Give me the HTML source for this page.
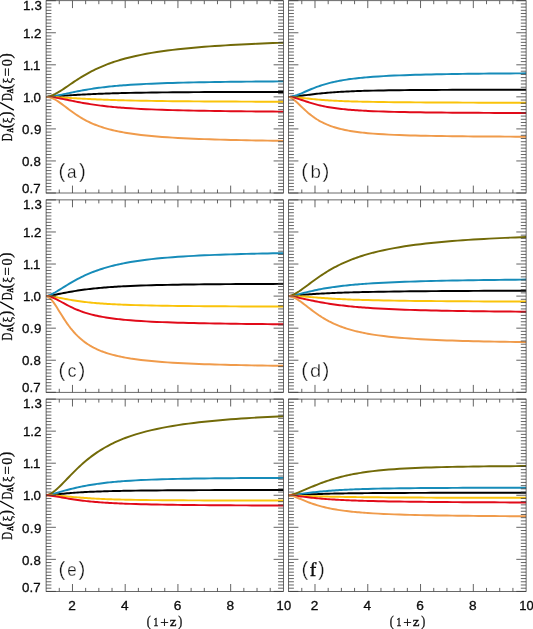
<!DOCTYPE html>
<html><head><meta charset="utf-8"><title>fig</title>
<style>html,body{margin:0;padding:0;background:#fff}svg{display:block}text{font-family:"Liberation Sans",sans-serif;fill:#111}.s{font-family:"Liberation Serif",serif}</style></head><body>
<svg width="533" height="629" viewBox="0 0 533 629">
<rect width="533" height="629" fill="#fff"/>
<g fill="none" stroke-width="1.95" stroke-linejoin="round" stroke-linecap="butt"><polyline points="46.1,96.9 47.86,96.81 49.62,96.7 51.37,96.58 53.13,96.46 54.89,96.34 56.65,96.21 58.4,96.09 60.16,95.96 61.92,95.84 63.68,95.72 65.44,95.6 67.19,95.48 68.95,95.36 70.71,95.25 72.47,95.14 74.22,95.03 75.98,94.93 77.74,94.83 79.5,94.73 81.26,94.63 83.01,94.54 84.77,94.45 86.53,94.36 88.29,94.27 90.04,94.19 91.8,94.11 93.56,94.03 95.32,93.96 97.08,93.88 98.83,93.81 100.59,93.75 102.35,93.68 104.11,93.62 105.86,93.55 107.62,93.5 109.38,93.44 111.14,93.38 112.9,93.33 114.65,93.28 116.41,93.23 118.17,93.18 119.93,93.13 121.68,93.09 123.44,93.05 125.2,93 130.47,92.89 135.75,92.78 141.02,92.69 146.29,92.6 151.57,92.53 156.84,92.46 162.11,92.4 167.39,92.35 172.66,92.3 177.93,92.25 183.21,92.21 188.48,92.18 193.75,92.15 199.03,92.12 204.3,92.09 209.57,92.07 214.85,92.05 220.12,92.03 225.39,92.01 230.67,92 235.94,91.98 241.21,91.97 246.49,91.96 251.76,91.95 257.03,91.94 262.31,91.93 267.58,91.92 272.85,91.92 278.13,91.91 283.4,91.9" stroke="#000000"/>
<polyline points="46.1,96.9 47.86,96.83 49.62,96.67 51.37,96.47 53.13,96.22 54.89,95.94 56.65,95.63 58.4,95.3 60.16,94.95 61.92,94.59 63.68,94.23 65.44,93.86 67.19,93.48 68.95,93.11 70.71,92.74 72.47,92.37 74.22,92.01 75.98,91.65 77.74,91.31 79.5,90.97 81.26,90.63 83.01,90.31 84.77,90 86.53,89.7 88.29,89.4 90.04,89.12 91.8,88.84 93.56,88.58 95.32,88.32 97.08,88.07 98.83,87.84 100.59,87.61 102.35,87.39 104.11,87.18 105.86,86.97 107.62,86.77 109.38,86.59 111.14,86.4 112.9,86.23 114.65,86.06 116.41,85.9 118.17,85.74 119.93,85.59 121.68,85.45 123.44,85.31 125.2,85.17 130.47,84.8 135.75,84.47 141.02,84.17 146.29,83.9 151.57,83.66 156.84,83.44 162.11,83.25 167.39,83.07 172.66,82.91 177.93,82.76 183.21,82.62 188.48,82.5 193.75,82.39 199.03,82.29 204.3,82.19 209.57,82.1 214.85,82.02 220.12,81.95 225.39,81.88 230.67,81.81 235.94,81.75 241.21,81.7 246.49,81.64 251.76,81.6 257.03,81.55 262.31,81.51 267.58,81.47 272.85,81.43 278.13,81.39 283.4,81.36" stroke="#168CB9"/>
<polyline points="46.1,96.9 47.86,96.72 49.62,96.3 51.37,95.71 53.13,94.99 54.89,94.14 56.65,93.2 58.4,92.19 60.16,91.11 61.92,89.98 63.68,88.82 65.44,87.64 67.19,86.44 68.95,85.24 70.71,84.04 72.47,82.85 74.22,81.67 75.98,80.51 77.74,79.37 79.5,78.25 81.26,77.16 83.01,76.09 84.77,75.06 86.53,74.05 88.29,73.07 90.04,72.12 91.8,71.21 93.56,70.32 95.32,69.45 97.08,68.62 98.83,67.82 100.59,67.04 102.35,66.29 104.11,65.56 105.86,64.86 107.62,64.18 109.38,63.53 111.14,62.89 112.9,62.28 114.65,61.69 116.41,61.12 118.17,60.57 119.93,60.04 121.68,59.53 123.44,59.03 125.2,58.55 130.47,57.19 135.75,55.97 141.02,54.85 146.29,53.83 151.57,52.9 156.84,52.05 162.11,51.27 167.39,50.55 172.66,49.89 177.93,49.28 183.21,48.71 188.48,48.18 193.75,47.69 199.03,47.23 204.3,46.8 209.57,46.4 214.85,46.03 220.12,45.68 225.39,45.35 230.67,45.04 235.94,44.74 241.21,44.47 246.49,44.21 251.76,43.96 257.03,43.72 262.31,43.5 267.58,43.29 272.85,43.09 278.13,42.9 283.4,42.72" stroke="#726A08"/>
<polyline points="46.1,96.9 47.86,96.92 49.62,96.96 51.37,97.01 53.13,97.07 54.89,97.14 56.65,97.22 58.4,97.31 60.16,97.4 61.92,97.5 63.68,97.6 65.44,97.7 67.19,97.8 68.95,97.9 70.71,98.01 72.47,98.11 74.22,98.22 75.98,98.32 77.74,98.42 79.5,98.52 81.26,98.62 83.01,98.71 84.77,98.81 86.53,98.9 88.29,98.99 90.04,99.08 91.8,99.16 93.56,99.25 95.32,99.33 97.08,99.41 98.83,99.48 100.59,99.56 102.35,99.63 104.11,99.7 105.86,99.76 107.62,99.83 109.38,99.89 111.14,99.95 112.9,100.01 114.65,100.07 116.41,100.12 118.17,100.17 119.93,100.22 121.68,100.27 123.44,100.32 125.2,100.37 130.47,100.5 135.75,100.61 141.02,100.72 146.29,100.81 151.57,100.9 156.84,100.98 162.11,101.05 167.39,101.11 172.66,101.17 177.93,101.22 183.21,101.27 188.48,101.32 193.75,101.36 199.03,101.4 204.3,101.43 209.57,101.46 214.85,101.49 220.12,101.52 225.39,101.55 230.67,101.57 235.94,101.59 241.21,101.61 246.49,101.63 251.76,101.65 257.03,101.67 262.31,101.68 267.58,101.7 272.85,101.71 278.13,101.73 283.4,101.74" stroke="#FAC30A"/>
<polyline points="46.1,96.9 47.86,96.94 49.62,97.04 51.37,97.18 53.13,97.37 54.89,97.6 56.65,97.86 58.4,98.14 60.16,98.45 61.92,98.78 63.68,99.12 65.44,99.46 67.19,99.82 68.95,100.18 70.71,100.54 72.47,100.9 74.22,101.25 75.98,101.6 77.74,101.95 79.5,102.28 81.26,102.61 83.01,102.93 84.77,103.24 86.53,103.54 88.29,103.83 90.04,104.12 91.8,104.39 93.56,104.65 95.32,104.9 97.08,105.14 98.83,105.38 100.59,105.6 102.35,105.82 104.11,106.02 105.86,106.22 107.62,106.41 109.38,106.6 111.14,106.77 112.9,106.94 114.65,107.11 116.41,107.26 118.17,107.41 119.93,107.56 121.68,107.7 123.44,107.83 125.2,107.96 130.47,108.31 135.75,108.63 141.02,108.92 146.29,109.17 151.57,109.4 156.84,109.61 162.11,109.8 167.39,109.97 172.66,110.12 177.93,110.26 183.21,110.39 188.48,110.51 193.75,110.62 199.03,110.72 204.3,110.81 209.57,110.89 214.85,110.97 220.12,111.05 225.39,111.12 230.67,111.18 235.94,111.24 241.21,111.29 246.49,111.35 251.76,111.4 257.03,111.44 262.31,111.48 267.58,111.52 272.85,111.56 278.13,111.6 283.4,111.63" stroke="#E10A19"/>
<polyline points="46.1,96.9 47.86,97.02 49.62,97.35 51.37,97.89 53.13,98.61 54.89,99.49 56.65,100.51 58.4,101.64 60.16,102.85 61.92,104.12 63.68,105.44 65.44,106.78 67.19,108.12 68.95,109.45 70.71,110.77 72.47,112.05 74.22,113.3 75.98,114.51 77.74,115.67 79.5,116.79 81.26,117.86 83.01,118.88 84.77,119.85 86.53,120.78 88.29,121.66 90.04,122.5 91.8,123.29 93.56,124.05 95.32,124.77 97.08,125.45 98.83,126.09 100.59,126.7 102.35,127.29 104.11,127.84 105.86,128.36 107.62,128.86 109.38,129.34 111.14,129.79 112.9,130.22 114.65,130.63 116.41,131.01 118.17,131.39 119.93,131.74 121.68,132.08 123.44,132.4 125.2,132.71 130.47,133.55 135.75,134.3 141.02,134.95 146.29,135.53 151.57,136.05 156.84,136.51 162.11,136.92 167.39,137.3 172.66,137.64 177.93,137.94 183.21,138.22 188.48,138.48 193.75,138.71 199.03,138.92 204.3,139.12 209.57,139.3 214.85,139.47 220.12,139.63 225.39,139.77 230.67,139.91 235.94,140.03 241.21,140.15 246.49,140.26 251.76,140.36 257.03,140.46 262.31,140.55 267.58,140.63 272.85,140.71 278.13,140.79 283.4,140.86" stroke="#F09B4B"/></g>
<path d="M46.1 0.7h9.8M283.4 0.7h-9.8M46.1 3.91h5.3M283.4 3.91h-5.3M46.1 7.11h5.3M283.4 7.11h-5.3M46.1 10.32h5.3M283.4 10.32h-5.3M46.1 13.52h5.3M283.4 13.52h-5.3M46.1 16.72h5.3M283.4 16.72h-5.3M46.1 19.93h5.3M283.4 19.93h-5.3M46.1 23.14h5.3M283.4 23.14h-5.3M46.1 26.34h5.3M283.4 26.34h-5.3M46.1 29.55h5.3M283.4 29.55h-5.3M46.1 32.75h9.8M283.4 32.75h-9.8M46.1 35.96h5.3M283.4 35.96h-5.3M46.1 39.16h5.3M283.4 39.16h-5.3M46.1 42.37h5.3M283.4 42.37h-5.3M46.1 45.57h5.3M283.4 45.57h-5.3M46.1 48.78h5.3M283.4 48.78h-5.3M46.1 51.98h5.3M283.4 51.98h-5.3M46.1 55.19h5.3M283.4 55.19h-5.3M46.1 58.39h5.3M283.4 58.39h-5.3M46.1 61.6h5.3M283.4 61.6h-5.3M46.1 64.8h9.8M283.4 64.8h-9.8M46.1 68.01h5.3M283.4 68.01h-5.3M46.1 71.21h5.3M283.4 71.21h-5.3M46.1 74.42h5.3M283.4 74.42h-5.3M46.1 77.62h5.3M283.4 77.62h-5.3M46.1 80.83h5.3M283.4 80.83h-5.3M46.1 84.03h5.3M283.4 84.03h-5.3M46.1 87.24h5.3M283.4 87.24h-5.3M46.1 90.44h5.3M283.4 90.44h-5.3M46.1 93.65h5.3M283.4 93.65h-5.3M46.1 96.85h9.8M283.4 96.85h-9.8M46.1 100.06h5.3M283.4 100.06h-5.3M46.1 103.26h5.3M283.4 103.26h-5.3M46.1 106.47h5.3M283.4 106.47h-5.3M46.1 109.67h5.3M283.4 109.67h-5.3M46.1 112.88h5.3M283.4 112.88h-5.3M46.1 116.08h5.3M283.4 116.08h-5.3M46.1 119.29h5.3M283.4 119.29h-5.3M46.1 122.49h5.3M283.4 122.49h-5.3M46.1 125.7h5.3M283.4 125.7h-5.3M46.1 128.9h9.8M283.4 128.9h-9.8M46.1 132.1h5.3M283.4 132.1h-5.3M46.1 135.31h5.3M283.4 135.31h-5.3M46.1 138.51h5.3M283.4 138.51h-5.3M46.1 141.72h5.3M283.4 141.72h-5.3M46.1 144.92h5.3M283.4 144.92h-5.3M46.1 148.13h5.3M283.4 148.13h-5.3M46.1 151.34h5.3M283.4 151.34h-5.3M46.1 154.54h5.3M283.4 154.54h-5.3M46.1 157.75h5.3M283.4 157.75h-5.3M46.1 160.95h9.8M283.4 160.95h-9.8M46.1 164.16h5.3M283.4 164.16h-5.3M46.1 167.36h5.3M283.4 167.36h-5.3M46.1 170.57h5.3M283.4 170.57h-5.3M46.1 173.77h5.3M283.4 173.77h-5.3M46.1 176.97h5.3M283.4 176.97h-5.3M46.1 180.18h5.3M283.4 180.18h-5.3M46.1 183.38h5.3M283.4 183.38h-5.3M46.1 186.59h5.3M283.4 186.59h-5.3M46.1 189.79h5.3M283.4 189.79h-5.3M46.1 193h9.8M283.4 193h-9.8M59.28 0.7v3.5M59.28 193v-3.5M72.47 0.7v7.4M72.47 193v-7.4M85.65 0.7v3.5M85.65 193v-3.5M98.83 0.7v3.5M98.83 193v-3.5M112.02 0.7v3.5M112.02 193v-3.5M125.2 0.7v7.4M125.2 193v-7.4M138.38 0.7v3.5M138.38 193v-3.5M151.57 0.7v3.5M151.57 193v-3.5M164.75 0.7v3.5M164.75 193v-3.5M177.93 0.7v7.4M177.93 193v-7.4M191.12 0.7v3.5M191.12 193v-3.5M204.3 0.7v3.5M204.3 193v-3.5M217.48 0.7v3.5M217.48 193v-3.5M230.67 0.7v7.4M230.67 193v-7.4M243.85 0.7v3.5M243.85 193v-3.5M257.03 0.7v3.5M257.03 193v-3.5M270.22 0.7v3.5M270.22 193v-3.5" stroke="#3c3c3c" stroke-width="0.8" fill="none"/>
<rect x="46.1" y="0.7" width="237.3" height="192.3" fill="none" stroke="#383838" stroke-width="0.75"/>
<g fill="none" stroke-width="1.95" stroke-linejoin="round" stroke-linecap="butt"><polyline points="288.6,96.9 290.36,96.84 292.12,96.73 293.88,96.58 295.64,96.41 297.4,96.21 299.16,96 300.91,95.79 302.67,95.56 304.43,95.34 306.19,95.11 307.95,94.89 309.71,94.66 311.47,94.45 313.23,94.23 314.99,94.03 316.75,93.83 318.51,93.63 320.27,93.45 322.03,93.27 323.79,93.1 325.54,92.94 327.3,92.79 329.06,92.64 330.82,92.5 332.58,92.36 334.34,92.24 336.1,92.12 337.86,92 339.62,91.89 341.38,91.79 343.14,91.69 344.9,91.6 346.66,91.51 348.41,91.43 350.17,91.35 351.93,91.27 353.69,91.2 355.45,91.13 357.21,91.07 358.97,91.01 360.73,90.95 362.49,90.89 364.25,90.84 366.01,90.79 367.77,90.75 373.04,90.62 378.32,90.51 383.6,90.41 388.88,90.33 394.16,90.25 399.43,90.19 404.71,90.13 409.99,90.08 415.27,90.04 420.54,90 425.82,89.97 431.1,89.94 436.38,89.91 441.66,89.88 446.93,89.86 452.21,89.84 457.49,89.82 462.77,89.81 468.04,89.79 473.32,89.78 478.6,89.77 483.88,89.75 489.16,89.74 494.43,89.73 499.71,89.73 504.99,89.72 510.27,89.71 515.54,89.7 520.82,89.7 526.1,89.69" stroke="#000000"/>
<polyline points="288.6,96.9 290.36,96.78 292.12,96.48 293.88,96.06 295.64,95.53 297.4,94.92 299.16,94.25 300.91,93.53 302.67,92.78 304.43,92.02 306.19,91.25 307.95,90.49 309.71,89.74 311.47,89.01 313.23,88.3 314.99,87.61 316.75,86.95 318.51,86.32 320.27,85.72 322.03,85.14 323.79,84.59 325.54,84.07 327.3,83.58 329.06,83.11 330.82,82.67 332.58,82.25 334.34,81.85 336.1,81.47 337.86,81.11 339.62,80.78 341.38,80.46 343.14,80.15 344.9,79.87 346.66,79.59 348.41,79.33 350.17,79.09 351.93,78.86 353.69,78.63 355.45,78.42 357.21,78.22 358.97,78.03 360.73,77.85 362.49,77.68 364.25,77.51 366.01,77.36 367.77,77.21 373.04,76.79 378.32,76.43 383.6,76.12 388.88,75.84 394.16,75.59 399.43,75.37 404.71,75.17 409.99,74.99 415.27,74.83 420.54,74.68 425.82,74.55 431.1,74.43 436.38,74.32 441.66,74.22 446.93,74.12 452.21,74.04 457.49,73.96 462.77,73.89 468.04,73.82 473.32,73.76 478.6,73.7 483.88,73.64 489.16,73.59 494.43,73.54 499.71,73.5 504.99,73.46 510.27,73.42 515.54,73.38 520.82,73.35 526.1,73.32" stroke="#168CB9"/>
<polyline points="288.6,96.9 290.36,96.93 292.12,96.99 293.88,97.1 295.64,97.24 297.4,97.4 299.16,97.57 300.91,97.77 302.67,97.97 304.43,98.17 306.19,98.37 307.95,98.57 309.71,98.77 311.47,98.96 313.23,99.14 314.99,99.31 316.75,99.48 318.51,99.64 320.27,99.79 322.03,99.93 323.79,100.06 325.54,100.19 327.3,100.31 329.06,100.42 330.82,100.52 332.58,100.62 334.34,100.72 336.1,100.8 337.86,100.89 339.62,100.97 341.38,101.04 343.14,101.11 344.9,101.18 346.66,101.24 348.41,101.3 350.17,101.36 351.93,101.41 353.69,101.46 355.45,101.51 357.21,101.56 358.97,101.6 360.73,101.64 362.49,101.68 364.25,101.72 366.01,101.76 367.77,101.79 373.04,101.89 378.32,101.98 383.6,102.05 388.88,102.12 394.16,102.18 399.43,102.23 404.71,102.28 409.99,102.32 415.27,102.36 420.54,102.4 425.82,102.43 431.1,102.46 436.38,102.49 441.66,102.52 446.93,102.54 452.21,102.56 457.49,102.59 462.77,102.6 468.04,102.62 473.32,102.64 478.6,102.66 483.88,102.67 489.16,102.68 494.43,102.7 499.71,102.71 504.99,102.72 510.27,102.73 515.54,102.74 520.82,102.75 526.1,102.76" stroke="#FAC30A"/>
<polyline points="288.6,96.9 290.36,97.01 292.12,97.27 293.88,97.63 295.64,98.07 297.4,98.58 299.16,99.12 300.91,99.7 302.67,100.29 304.43,100.88 306.19,101.47 307.95,102.04 309.71,102.6 311.47,103.14 313.23,103.66 314.99,104.15 316.75,104.62 318.51,105.07 320.27,105.49 322.03,105.89 323.79,106.26 325.54,106.61 327.3,106.94 329.06,107.25 330.82,107.54 332.58,107.82 334.34,108.08 336.1,108.32 337.86,108.55 339.62,108.76 341.38,108.96 343.14,109.15 344.9,109.33 346.66,109.5 348.41,109.66 350.17,109.81 351.93,109.95 353.69,110.08 355.45,110.21 357.21,110.33 358.97,110.44 360.73,110.55 362.49,110.65 364.25,110.75 366.01,110.84 367.77,110.93 373.04,111.17 378.32,111.37 383.6,111.55 388.88,111.71 394.16,111.85 399.43,111.97 404.71,112.08 409.99,112.17 415.27,112.26 420.54,112.34 425.82,112.41 431.1,112.47 436.38,112.53 441.66,112.58 446.93,112.63 452.21,112.67 457.49,112.71 462.77,112.75 468.04,112.78 473.32,112.81 478.6,112.84 483.88,112.87 489.16,112.89 494.43,112.92 499.71,112.94 504.99,112.96 510.27,112.98 515.54,113 520.82,113.01 526.1,113.03" stroke="#E10A19"/>
<polyline points="288.6,96.9 290.36,97.41 292.12,98.41 293.88,99.7 295.64,101.19 297.4,102.8 299.16,104.48 300.91,106.18 302.67,107.87 304.43,109.52 306.19,111.12 307.95,112.66 309.71,114.13 311.47,115.52 313.23,116.83 314.99,118.06 316.75,119.21 318.51,120.29 320.27,121.3 322.03,122.24 323.79,123.11 325.54,123.93 327.3,124.69 329.06,125.39 330.82,126.05 332.58,126.67 334.34,127.24 336.1,127.77 337.86,128.26 339.62,128.73 341.38,129.16 343.14,129.56 344.9,129.94 346.66,130.29 348.41,130.62 350.17,130.93 351.93,131.22 353.69,131.5 355.45,131.75 357.21,131.99 358.97,132.22 360.73,132.43 362.49,132.63 364.25,132.82 366.01,133 367.77,133.17 373.04,133.62 378.32,134 383.6,134.33 388.88,134.61 394.16,134.86 399.43,135.07 404.71,135.26 409.99,135.42 415.27,135.56 420.54,135.69 425.82,135.8 431.1,135.9 436.38,135.99 441.66,136.07 446.93,136.14 452.21,136.21 457.49,136.27 462.77,136.32 468.04,136.37 473.32,136.42 478.6,136.46 483.88,136.49 489.16,136.53 494.43,136.56 499.71,136.59 504.99,136.62 510.27,136.64 515.54,136.67 520.82,136.69 526.1,136.71" stroke="#F09B4B"/></g>
<path d="M288.6 0.7h9.8M526.1 0.7h-9.8M288.6 3.91h5.3M526.1 3.91h-5.3M288.6 7.11h5.3M526.1 7.11h-5.3M288.6 10.32h5.3M526.1 10.32h-5.3M288.6 13.52h5.3M526.1 13.52h-5.3M288.6 16.72h5.3M526.1 16.72h-5.3M288.6 19.93h5.3M526.1 19.93h-5.3M288.6 23.14h5.3M526.1 23.14h-5.3M288.6 26.34h5.3M526.1 26.34h-5.3M288.6 29.55h5.3M526.1 29.55h-5.3M288.6 32.75h9.8M526.1 32.75h-9.8M288.6 35.96h5.3M526.1 35.96h-5.3M288.6 39.16h5.3M526.1 39.16h-5.3M288.6 42.37h5.3M526.1 42.37h-5.3M288.6 45.57h5.3M526.1 45.57h-5.3M288.6 48.78h5.3M526.1 48.78h-5.3M288.6 51.98h5.3M526.1 51.98h-5.3M288.6 55.19h5.3M526.1 55.19h-5.3M288.6 58.39h5.3M526.1 58.39h-5.3M288.6 61.6h5.3M526.1 61.6h-5.3M288.6 64.8h9.8M526.1 64.8h-9.8M288.6 68.01h5.3M526.1 68.01h-5.3M288.6 71.21h5.3M526.1 71.21h-5.3M288.6 74.42h5.3M526.1 74.42h-5.3M288.6 77.62h5.3M526.1 77.62h-5.3M288.6 80.83h5.3M526.1 80.83h-5.3M288.6 84.03h5.3M526.1 84.03h-5.3M288.6 87.24h5.3M526.1 87.24h-5.3M288.6 90.44h5.3M526.1 90.44h-5.3M288.6 93.65h5.3M526.1 93.65h-5.3M288.6 96.85h9.8M526.1 96.85h-9.8M288.6 100.06h5.3M526.1 100.06h-5.3M288.6 103.26h5.3M526.1 103.26h-5.3M288.6 106.47h5.3M526.1 106.47h-5.3M288.6 109.67h5.3M526.1 109.67h-5.3M288.6 112.88h5.3M526.1 112.88h-5.3M288.6 116.08h5.3M526.1 116.08h-5.3M288.6 119.29h5.3M526.1 119.29h-5.3M288.6 122.49h5.3M526.1 122.49h-5.3M288.6 125.7h5.3M526.1 125.7h-5.3M288.6 128.9h9.8M526.1 128.9h-9.8M288.6 132.1h5.3M526.1 132.1h-5.3M288.6 135.31h5.3M526.1 135.31h-5.3M288.6 138.51h5.3M526.1 138.51h-5.3M288.6 141.72h5.3M526.1 141.72h-5.3M288.6 144.92h5.3M526.1 144.92h-5.3M288.6 148.13h5.3M526.1 148.13h-5.3M288.6 151.34h5.3M526.1 151.34h-5.3M288.6 154.54h5.3M526.1 154.54h-5.3M288.6 157.75h5.3M526.1 157.75h-5.3M288.6 160.95h9.8M526.1 160.95h-9.8M288.6 164.16h5.3M526.1 164.16h-5.3M288.6 167.36h5.3M526.1 167.36h-5.3M288.6 170.57h5.3M526.1 170.57h-5.3M288.6 173.77h5.3M526.1 173.77h-5.3M288.6 176.97h5.3M526.1 176.97h-5.3M288.6 180.18h5.3M526.1 180.18h-5.3M288.6 183.38h5.3M526.1 183.38h-5.3M288.6 186.59h5.3M526.1 186.59h-5.3M288.6 189.79h5.3M526.1 189.79h-5.3M288.6 193h9.8M526.1 193h-9.8M301.79 0.7v3.5M301.79 193v-3.5M314.99 0.7v7.4M314.99 193v-7.4M328.18 0.7v3.5M328.18 193v-3.5M341.38 0.7v3.5M341.38 193v-3.5M354.57 0.7v3.5M354.57 193v-3.5M367.77 0.7v7.4M367.77 193v-7.4M380.96 0.7v3.5M380.96 193v-3.5M394.16 0.7v3.5M394.16 193v-3.5M407.35 0.7v3.5M407.35 193v-3.5M420.54 0.7v7.4M420.54 193v-7.4M433.74 0.7v3.5M433.74 193v-3.5M446.93 0.7v3.5M446.93 193v-3.5M460.13 0.7v3.5M460.13 193v-3.5M473.32 0.7v7.4M473.32 193v-7.4M486.52 0.7v3.5M486.52 193v-3.5M499.71 0.7v3.5M499.71 193v-3.5M512.91 0.7v3.5M512.91 193v-3.5" stroke="#3c3c3c" stroke-width="0.8" fill="none"/>
<rect x="288.6" y="0.7" width="237.5" height="192.3" fill="none" stroke="#383838" stroke-width="0.75"/>
<g fill="none" stroke-width="1.95" stroke-linejoin="round" stroke-linecap="butt"><polyline points="46.1,296.1 47.86,295.94 49.62,295.69 51.37,295.41 53.13,295.09 54.89,294.76 56.65,294.42 58.4,294.07 60.16,293.72 61.92,293.38 63.68,293.03 65.44,292.7 67.19,292.37 68.95,292.05 70.71,291.73 72.47,291.43 74.22,291.14 75.98,290.85 77.74,290.58 79.5,290.32 81.26,290.06 83.01,289.82 84.77,289.58 86.53,289.36 88.29,289.14 90.04,288.93 91.8,288.73 93.56,288.54 95.32,288.36 97.08,288.19 98.83,288.02 100.59,287.86 102.35,287.7 104.11,287.56 105.86,287.42 107.62,287.28 109.38,287.15 111.14,287.03 112.9,286.91 114.65,286.79 116.41,286.68 118.17,286.58 119.93,286.48 121.68,286.38 123.44,286.29 125.2,286.2 130.47,285.96 135.75,285.74 141.02,285.55 146.29,285.37 151.57,285.22 156.84,285.08 162.11,284.96 167.39,284.85 172.66,284.75 177.93,284.66 183.21,284.58 188.48,284.51 193.75,284.44 199.03,284.38 204.3,284.32 209.57,284.27 214.85,284.22 220.12,284.18 225.39,284.14 230.67,284.11 235.94,284.07 241.21,284.04 246.49,284.01 251.76,283.99 257.03,283.96 262.31,283.94 267.58,283.92 272.85,283.9 278.13,283.88 283.4,283.86" stroke="#000000"/>
<polyline points="46.1,296.1 47.86,295.75 49.62,295.13 51.37,294.35 53.13,293.47 54.89,292.51 56.65,291.49 58.4,290.44 60.16,289.36 61.92,288.27 63.68,287.18 65.44,286.09 67.19,285.01 68.95,283.95 70.71,282.9 72.47,281.88 74.22,280.89 75.98,279.91 77.74,278.97 79.5,278.06 81.26,277.17 83.01,276.31 84.77,275.49 86.53,274.69 88.29,273.92 90.04,273.18 91.8,272.46 93.56,271.77 95.32,271.11 97.08,270.47 98.83,269.86 100.59,269.27 102.35,268.7 104.11,268.16 105.86,267.63 107.62,267.13 109.38,266.65 111.14,266.18 112.9,265.73 114.65,265.3 116.41,264.89 118.17,264.49 119.93,264.1 121.68,263.73 123.44,263.38 125.2,263.04 130.47,262.08 135.75,261.23 141.02,260.46 146.29,259.78 151.57,259.15 156.84,258.59 162.11,258.09 167.39,257.62 172.66,257.2 177.93,256.82 183.21,256.47 188.48,256.15 193.75,255.86 199.03,255.59 204.3,255.34 209.57,255.11 214.85,254.9 220.12,254.7 225.39,254.52 230.67,254.35 235.94,254.19 241.21,254.04 246.49,253.9 251.76,253.77 257.03,253.65 262.31,253.54 267.58,253.44 272.85,253.34 278.13,253.24 283.4,253.16" stroke="#168CB9"/>
<polyline points="46.1,296.1 47.86,296.16 49.62,296.31 51.37,296.5 53.13,296.75 54.89,297.02 56.65,297.32 58.4,297.64 60.16,297.96 61.92,298.3 63.68,298.63 65.44,298.96 67.19,299.28 68.95,299.6 70.71,299.91 72.47,300.2 74.22,300.49 75.98,300.76 77.74,301.02 79.5,301.27 81.26,301.51 83.01,301.73 84.77,301.95 86.53,302.15 88.29,302.35 90.04,302.53 91.8,302.7 93.56,302.87 95.32,303.03 97.08,303.18 98.83,303.32 100.59,303.45 102.35,303.58 104.11,303.7 105.86,303.81 107.62,303.92 109.38,304.03 111.14,304.13 112.9,304.22 114.65,304.31 116.41,304.4 118.17,304.48 119.93,304.56 121.68,304.63 123.44,304.7 125.2,304.77 130.47,304.96 135.75,305.12 141.02,305.27 146.29,305.4 151.57,305.51 156.84,305.61 162.11,305.71 167.39,305.79 172.66,305.87 177.93,305.93 183.21,306 188.48,306.05 193.75,306.1 199.03,306.15 204.3,306.2 209.57,306.24 214.85,306.27 220.12,306.31 225.39,306.34 230.67,306.37 235.94,306.4 241.21,306.42 246.49,306.45 251.76,306.47 257.03,306.49 262.31,306.51 267.58,306.53 272.85,306.55 278.13,306.56 283.4,306.58" stroke="#FAC30A"/>
<polyline points="46.1,296.1 47.86,296.24 49.62,296.59 51.37,297.12 53.13,297.78 54.89,298.55 56.65,299.4 58.4,300.31 60.16,301.26 61.92,302.23 63.68,303.19 65.44,304.15 67.19,305.09 68.95,306 70.71,306.88 72.47,307.72 74.22,308.52 75.98,309.29 77.74,310.02 79.5,310.71 81.26,311.36 83.01,311.98 84.77,312.56 86.53,313.11 88.29,313.63 90.04,314.12 91.8,314.58 93.56,315.01 95.32,315.43 97.08,315.81 98.83,316.18 100.59,316.53 102.35,316.85 104.11,317.16 105.86,317.46 107.62,317.74 109.38,318 111.14,318.25 112.9,318.49 114.65,318.71 116.41,318.93 118.17,319.13 119.93,319.32 121.68,319.51 123.44,319.69 125.2,319.85 130.47,320.31 135.75,320.72 141.02,321.07 146.29,321.38 151.57,321.66 156.84,321.91 162.11,322.13 167.39,322.33 172.66,322.51 177.93,322.68 183.21,322.83 188.48,322.96 193.75,323.09 199.03,323.2 204.3,323.31 209.57,323.4 214.85,323.49 220.12,323.58 225.39,323.65 230.67,323.73 235.94,323.79 241.21,323.86 246.49,323.91 251.76,323.97 257.03,324.02 262.31,324.07 267.58,324.11 272.85,324.16 278.13,324.2 283.4,324.23" stroke="#E10A19"/>
<polyline points="46.1,296.1 47.86,296.61 49.62,297.85 51.37,299.64 53.13,301.86 54.89,304.38 56.65,307.09 58.4,309.92 60.16,312.77 61.92,315.61 63.68,318.38 65.44,321.05 67.19,323.6 68.95,326.03 70.71,328.32 72.47,330.48 74.22,332.5 75.98,334.39 77.74,336.16 79.5,337.81 81.26,339.35 83.01,340.78 84.77,342.12 86.53,343.36 88.29,344.52 90.04,345.61 91.8,346.63 93.56,347.57 95.32,348.46 97.08,349.29 98.83,350.07 100.59,350.81 102.35,351.49 104.11,352.14 105.86,352.75 107.62,353.32 109.38,353.86 111.14,354.37 112.9,354.85 114.65,355.31 116.41,355.74 118.17,356.15 119.93,356.54 121.68,356.9 123.44,357.25 125.2,357.59 130.47,358.49 135.75,359.27 141.02,359.96 146.29,360.56 151.57,361.09 156.84,361.56 162.11,361.98 167.39,362.36 172.66,362.69 177.93,363 183.21,363.28 188.48,363.53 193.75,363.76 199.03,363.97 204.3,364.16 209.57,364.34 214.85,364.5 220.12,364.65 225.39,364.79 230.67,364.92 235.94,365.04 241.21,365.15 246.49,365.26 251.76,365.36 257.03,365.45 262.31,365.53 267.58,365.61 272.85,365.69 278.13,365.76 283.4,365.83" stroke="#F09B4B"/></g>
<path d="M46.1 199.9h9.8M283.4 199.9h-9.8M46.1 203.11h5.3M283.4 203.11h-5.3M46.1 206.31h5.3M283.4 206.31h-5.3M46.1 209.52h5.3M283.4 209.52h-5.3M46.1 212.73h5.3M283.4 212.73h-5.3M46.1 215.93h5.3M283.4 215.93h-5.3M46.1 219.14h5.3M283.4 219.14h-5.3M46.1 222.35h5.3M283.4 222.35h-5.3M46.1 225.55h5.3M283.4 225.55h-5.3M46.1 228.76h5.3M283.4 228.76h-5.3M46.1 231.97h9.8M283.4 231.97h-9.8M46.1 235.17h5.3M283.4 235.17h-5.3M46.1 238.38h5.3M283.4 238.38h-5.3M46.1 241.59h5.3M283.4 241.59h-5.3M46.1 244.79h5.3M283.4 244.79h-5.3M46.1 248h5.3M283.4 248h-5.3M46.1 251.21h5.3M283.4 251.21h-5.3M46.1 254.41h5.3M283.4 254.41h-5.3M46.1 257.62h5.3M283.4 257.62h-5.3M46.1 260.83h5.3M283.4 260.83h-5.3M46.1 264.03h9.8M283.4 264.03h-9.8M46.1 267.24h5.3M283.4 267.24h-5.3M46.1 270.45h5.3M283.4 270.45h-5.3M46.1 273.65h5.3M283.4 273.65h-5.3M46.1 276.86h5.3M283.4 276.86h-5.3M46.1 280.07h5.3M283.4 280.07h-5.3M46.1 283.27h5.3M283.4 283.27h-5.3M46.1 286.48h5.3M283.4 286.48h-5.3M46.1 289.69h5.3M283.4 289.69h-5.3M46.1 292.89h5.3M283.4 292.89h-5.3M46.1 296.1h9.8M283.4 296.1h-9.8M46.1 299.31h5.3M283.4 299.31h-5.3M46.1 302.51h5.3M283.4 302.51h-5.3M46.1 305.72h5.3M283.4 305.72h-5.3M46.1 308.93h5.3M283.4 308.93h-5.3M46.1 312.13h5.3M283.4 312.13h-5.3M46.1 315.34h5.3M283.4 315.34h-5.3M46.1 318.55h5.3M283.4 318.55h-5.3M46.1 321.75h5.3M283.4 321.75h-5.3M46.1 324.96h5.3M283.4 324.96h-5.3M46.1 328.17h9.8M283.4 328.17h-9.8M46.1 331.37h5.3M283.4 331.37h-5.3M46.1 334.58h5.3M283.4 334.58h-5.3M46.1 337.79h5.3M283.4 337.79h-5.3M46.1 340.99h5.3M283.4 340.99h-5.3M46.1 344.2h5.3M283.4 344.2h-5.3M46.1 347.41h5.3M283.4 347.41h-5.3M46.1 350.61h5.3M283.4 350.61h-5.3M46.1 353.82h5.3M283.4 353.82h-5.3M46.1 357.03h5.3M283.4 357.03h-5.3M46.1 360.23h9.8M283.4 360.23h-9.8M46.1 363.44h5.3M283.4 363.44h-5.3M46.1 366.65h5.3M283.4 366.65h-5.3M46.1 369.85h5.3M283.4 369.85h-5.3M46.1 373.06h5.3M283.4 373.06h-5.3M46.1 376.27h5.3M283.4 376.27h-5.3M46.1 379.47h5.3M283.4 379.47h-5.3M46.1 382.68h5.3M283.4 382.68h-5.3M46.1 385.89h5.3M283.4 385.89h-5.3M46.1 389.09h5.3M283.4 389.09h-5.3M46.1 392.3h9.8M283.4 392.3h-9.8M59.28 199.9v3.5M59.28 392.3v-3.5M72.47 199.9v7.4M72.47 392.3v-7.4M85.65 199.9v3.5M85.65 392.3v-3.5M98.83 199.9v3.5M98.83 392.3v-3.5M112.02 199.9v3.5M112.02 392.3v-3.5M125.2 199.9v7.4M125.2 392.3v-7.4M138.38 199.9v3.5M138.38 392.3v-3.5M151.57 199.9v3.5M151.57 392.3v-3.5M164.75 199.9v3.5M164.75 392.3v-3.5M177.93 199.9v7.4M177.93 392.3v-7.4M191.12 199.9v3.5M191.12 392.3v-3.5M204.3 199.9v3.5M204.3 392.3v-3.5M217.48 199.9v3.5M217.48 392.3v-3.5M230.67 199.9v7.4M230.67 392.3v-7.4M243.85 199.9v3.5M243.85 392.3v-3.5M257.03 199.9v3.5M257.03 392.3v-3.5M270.22 199.9v3.5M270.22 392.3v-3.5" stroke="#3c3c3c" stroke-width="0.8" fill="none"/>
<rect x="46.1" y="199.9" width="237.3" height="192.4" fill="none" stroke="#383838" stroke-width="0.75"/>
<g fill="none" stroke-width="1.95" stroke-linejoin="round" stroke-linecap="butt"><polyline points="288.6,296.1 290.36,295.98 292.12,295.83 293.88,295.66 295.64,295.5 297.4,295.34 299.16,295.18 300.91,295.02 302.67,294.87 304.43,294.72 306.19,294.58 307.95,294.44 309.71,294.31 311.47,294.19 313.23,294.07 314.99,293.95 316.75,293.84 318.51,293.73 320.27,293.63 322.03,293.53 323.79,293.44 325.54,293.35 327.3,293.26 329.06,293.18 330.82,293.1 332.58,293.02 334.34,292.95 336.1,292.88 337.86,292.81 339.62,292.74 341.38,292.68 343.14,292.62 344.9,292.56 346.66,292.51 348.41,292.45 350.17,292.4 351.93,292.35 353.69,292.3 355.45,292.25 357.21,292.21 358.97,292.17 360.73,292.12 362.49,292.08 364.25,292.04 366.01,292 367.77,291.97 373.04,291.86 378.32,291.77 383.6,291.68 388.88,291.6 394.16,291.53 399.43,291.46 404.71,291.4 409.99,291.34 415.27,291.29 420.54,291.24 425.82,291.19 431.1,291.15 436.38,291.11 441.66,291.07 446.93,291.04 452.21,291 457.49,290.97 462.77,290.94 468.04,290.92 473.32,290.89 478.6,290.87 483.88,290.84 489.16,290.82 494.43,290.8 499.71,290.78 504.99,290.76 510.27,290.74 515.54,290.72 520.82,290.71 526.1,290.69" stroke="#000000"/>
<polyline points="288.6,296.1 290.36,295.94 292.12,295.67 293.88,295.33 295.64,294.94 297.4,294.53 299.16,294.1 300.91,293.66 302.67,293.22 304.43,292.77 306.19,292.34 307.95,291.91 309.71,291.49 311.47,291.08 313.23,290.68 314.99,290.3 316.75,289.93 318.51,289.57 320.27,289.23 322.03,288.89 323.79,288.58 325.54,288.27 327.3,287.98 329.06,287.69 330.82,287.42 332.58,287.16 334.34,286.91 336.1,286.67 337.86,286.44 339.62,286.22 341.38,286.01 343.14,285.8 344.9,285.61 346.66,285.42 348.41,285.24 350.17,285.06 351.93,284.89 353.69,284.73 355.45,284.57 357.21,284.42 358.97,284.28 360.73,284.14 362.49,284 364.25,283.87 366.01,283.75 367.77,283.63 373.04,283.29 378.32,282.98 383.6,282.7 388.88,282.44 394.16,282.21 399.43,281.99 404.71,281.79 409.99,281.61 415.27,281.44 420.54,281.29 425.82,281.14 431.1,281.01 436.38,280.88 441.66,280.77 446.93,280.65 452.21,280.55 457.49,280.45 462.77,280.36 468.04,280.28 473.32,280.2 478.6,280.12 483.88,280.05 489.16,279.98 494.43,279.91 499.71,279.85 504.99,279.79 510.27,279.73 515.54,279.68 520.82,279.63 526.1,279.58" stroke="#168CB9"/>
<polyline points="288.6,296.1 290.36,295.79 292.12,295.19 293.88,294.4 295.64,293.46 297.4,292.41 299.16,291.28 300.91,290.08 302.67,288.83 304.43,287.55 306.19,286.25 307.95,284.93 309.71,283.62 311.47,282.31 313.23,281.02 314.99,279.74 316.75,278.48 318.51,277.24 320.27,276.03 322.03,274.85 323.79,273.7 325.54,272.58 327.3,271.49 329.06,270.44 330.82,269.41 332.58,268.42 334.34,267.46 336.1,266.52 337.86,265.62 339.62,264.75 341.38,263.9 343.14,263.09 344.9,262.3 346.66,261.53 348.41,260.8 350.17,260.08 351.93,259.39 353.69,258.73 355.45,258.08 357.21,257.46 358.97,256.86 360.73,256.27 362.49,255.71 364.25,255.16 366.01,254.64 367.77,254.12 373.04,252.68 378.32,251.37 383.6,250.18 388.88,249.09 394.16,248.09 399.43,247.17 404.71,246.33 409.99,245.55 415.27,244.83 420.54,244.17 425.82,243.55 431.1,242.98 436.38,242.44 441.66,241.94 446.93,241.48 452.21,241.04 457.49,240.63 462.77,240.25 468.04,239.89 473.32,239.55 478.6,239.23 483.88,238.93 489.16,238.64 494.43,238.37 499.71,238.12 504.99,237.87 510.27,237.64 515.54,237.42 520.82,237.21 526.1,237.01" stroke="#726A08"/>
<polyline points="288.6,296.1 290.36,296.1 292.12,296.11 293.88,296.14 295.64,296.17 297.4,296.23 299.16,296.29 300.91,296.38 302.67,296.47 304.43,296.58 306.19,296.7 307.95,296.83 309.71,296.96 311.47,297.1 313.23,297.24 314.99,297.38 316.75,297.53 318.51,297.67 320.27,297.8 322.03,297.94 323.79,298.07 325.54,298.2 327.3,298.32 329.06,298.44 330.82,298.55 332.58,298.66 334.34,298.77 336.1,298.87 337.86,298.96 339.62,299.05 341.38,299.14 343.14,299.23 344.9,299.31 346.66,299.38 348.41,299.46 350.17,299.53 351.93,299.6 353.69,299.66 355.45,299.72 357.21,299.78 358.97,299.84 360.73,299.89 362.49,299.95 364.25,300 366.01,300.05 367.77,300.09 373.04,300.22 378.32,300.34 383.6,300.45 388.88,300.54 394.16,300.63 399.43,300.71 404.71,300.78 409.99,300.85 415.27,300.91 420.54,300.96 425.82,301.02 431.1,301.06 436.38,301.11 441.66,301.15 446.93,301.19 452.21,301.23 457.49,301.26 462.77,301.3 468.04,301.33 473.32,301.36 478.6,301.38 483.88,301.41 489.16,301.43 494.43,301.46 499.71,301.48 504.99,301.5 510.27,301.52 515.54,301.54 520.82,301.56 526.1,301.58" stroke="#FAC30A"/>
<polyline points="288.6,296.1 290.36,296.25 292.12,296.49 293.88,296.78 295.64,297.11 297.4,297.46 299.16,297.83 300.91,298.2 302.67,298.58 304.43,298.97 306.19,299.35 307.95,299.73 309.71,300.1 311.47,300.47 313.23,300.83 314.99,301.19 316.75,301.53 318.51,301.87 320.27,302.2 322.03,302.51 323.79,302.82 325.54,303.12 327.3,303.41 329.06,303.68 330.82,303.95 332.58,304.21 334.34,304.46 336.1,304.71 337.86,304.94 339.62,305.17 341.38,305.38 343.14,305.59 344.9,305.79 346.66,305.99 348.41,306.18 350.17,306.36 351.93,306.53 353.69,306.7 355.45,306.86 357.21,307.02 358.97,307.17 360.73,307.31 362.49,307.45 364.25,307.59 366.01,307.72 367.77,307.84 373.04,308.2 378.32,308.52 383.6,308.8 388.88,309.06 394.16,309.3 399.43,309.51 404.71,309.71 409.99,309.89 415.27,310.05 420.54,310.2 425.82,310.34 431.1,310.47 436.38,310.58 441.66,310.69 446.93,310.79 452.21,310.89 457.49,310.97 462.77,311.05 468.04,311.13 473.32,311.2 478.6,311.26 483.88,311.32 489.16,311.38 494.43,311.43 499.71,311.48 504.99,311.53 510.27,311.57 515.54,311.62 520.82,311.66 526.1,311.69" stroke="#E10A19"/>
<polyline points="288.6,296.1 290.36,296.31 292.12,296.81 293.88,297.52 295.64,298.41 297.4,299.44 299.16,300.59 300.91,301.82 302.67,303.12 304.43,304.46 306.19,305.82 307.95,307.18 309.71,308.55 311.47,309.89 313.23,311.21 314.99,312.5 316.75,313.75 318.51,314.97 320.27,316.13 322.03,317.26 323.79,318.33 325.54,319.37 327.3,320.35 329.06,321.3 330.82,322.19 332.58,323.05 334.34,323.87 336.1,324.64 337.86,325.38 339.62,326.09 341.38,326.76 343.14,327.39 344.9,328 346.66,328.57 348.41,329.12 350.17,329.65 351.93,330.14 353.69,330.62 355.45,331.07 357.21,331.5 358.97,331.91 360.73,332.3 362.49,332.67 364.25,333.03 366.01,333.37 367.77,333.7 373.04,334.59 378.32,335.38 383.6,336.07 388.88,336.68 394.16,337.22 399.43,337.71 404.71,338.14 409.99,338.53 415.27,338.88 420.54,339.2 425.82,339.49 431.1,339.75 436.38,339.99 441.66,340.21 446.93,340.41 452.21,340.59 457.49,340.76 462.77,340.91 468.04,341.06 473.32,341.19 478.6,341.32 483.88,341.43 489.16,341.54 494.43,341.64 499.71,341.73 504.99,341.82 510.27,341.9 515.54,341.98 520.82,342.05 526.1,342.12" stroke="#F09B4B"/></g>
<path d="M288.6 199.9h9.8M526.1 199.9h-9.8M288.6 203.11h5.3M526.1 203.11h-5.3M288.6 206.31h5.3M526.1 206.31h-5.3M288.6 209.52h5.3M526.1 209.52h-5.3M288.6 212.73h5.3M526.1 212.73h-5.3M288.6 215.93h5.3M526.1 215.93h-5.3M288.6 219.14h5.3M526.1 219.14h-5.3M288.6 222.35h5.3M526.1 222.35h-5.3M288.6 225.55h5.3M526.1 225.55h-5.3M288.6 228.76h5.3M526.1 228.76h-5.3M288.6 231.97h9.8M526.1 231.97h-9.8M288.6 235.17h5.3M526.1 235.17h-5.3M288.6 238.38h5.3M526.1 238.38h-5.3M288.6 241.59h5.3M526.1 241.59h-5.3M288.6 244.79h5.3M526.1 244.79h-5.3M288.6 248h5.3M526.1 248h-5.3M288.6 251.21h5.3M526.1 251.21h-5.3M288.6 254.41h5.3M526.1 254.41h-5.3M288.6 257.62h5.3M526.1 257.62h-5.3M288.6 260.83h5.3M526.1 260.83h-5.3M288.6 264.03h9.8M526.1 264.03h-9.8M288.6 267.24h5.3M526.1 267.24h-5.3M288.6 270.45h5.3M526.1 270.45h-5.3M288.6 273.65h5.3M526.1 273.65h-5.3M288.6 276.86h5.3M526.1 276.86h-5.3M288.6 280.07h5.3M526.1 280.07h-5.3M288.6 283.27h5.3M526.1 283.27h-5.3M288.6 286.48h5.3M526.1 286.48h-5.3M288.6 289.69h5.3M526.1 289.69h-5.3M288.6 292.89h5.3M526.1 292.89h-5.3M288.6 296.1h9.8M526.1 296.1h-9.8M288.6 299.31h5.3M526.1 299.31h-5.3M288.6 302.51h5.3M526.1 302.51h-5.3M288.6 305.72h5.3M526.1 305.72h-5.3M288.6 308.93h5.3M526.1 308.93h-5.3M288.6 312.13h5.3M526.1 312.13h-5.3M288.6 315.34h5.3M526.1 315.34h-5.3M288.6 318.55h5.3M526.1 318.55h-5.3M288.6 321.75h5.3M526.1 321.75h-5.3M288.6 324.96h5.3M526.1 324.96h-5.3M288.6 328.17h9.8M526.1 328.17h-9.8M288.6 331.37h5.3M526.1 331.37h-5.3M288.6 334.58h5.3M526.1 334.58h-5.3M288.6 337.79h5.3M526.1 337.79h-5.3M288.6 340.99h5.3M526.1 340.99h-5.3M288.6 344.2h5.3M526.1 344.2h-5.3M288.6 347.41h5.3M526.1 347.41h-5.3M288.6 350.61h5.3M526.1 350.61h-5.3M288.6 353.82h5.3M526.1 353.82h-5.3M288.6 357.03h5.3M526.1 357.03h-5.3M288.6 360.23h9.8M526.1 360.23h-9.8M288.6 363.44h5.3M526.1 363.44h-5.3M288.6 366.65h5.3M526.1 366.65h-5.3M288.6 369.85h5.3M526.1 369.85h-5.3M288.6 373.06h5.3M526.1 373.06h-5.3M288.6 376.27h5.3M526.1 376.27h-5.3M288.6 379.47h5.3M526.1 379.47h-5.3M288.6 382.68h5.3M526.1 382.68h-5.3M288.6 385.89h5.3M526.1 385.89h-5.3M288.6 389.09h5.3M526.1 389.09h-5.3M288.6 392.3h9.8M526.1 392.3h-9.8M301.79 199.9v3.5M301.79 392.3v-3.5M314.99 199.9v7.4M314.99 392.3v-7.4M328.18 199.9v3.5M328.18 392.3v-3.5M341.38 199.9v3.5M341.38 392.3v-3.5M354.57 199.9v3.5M354.57 392.3v-3.5M367.77 199.9v7.4M367.77 392.3v-7.4M380.96 199.9v3.5M380.96 392.3v-3.5M394.16 199.9v3.5M394.16 392.3v-3.5M407.35 199.9v3.5M407.35 392.3v-3.5M420.54 199.9v7.4M420.54 392.3v-7.4M433.74 199.9v3.5M433.74 392.3v-3.5M446.93 199.9v3.5M446.93 392.3v-3.5M460.13 199.9v3.5M460.13 392.3v-3.5M473.32 199.9v7.4M473.32 392.3v-7.4M486.52 199.9v3.5M486.52 392.3v-3.5M499.71 199.9v3.5M499.71 392.3v-3.5M512.91 199.9v3.5M512.91 392.3v-3.5" stroke="#3c3c3c" stroke-width="0.8" fill="none"/>
<rect x="288.6" y="199.9" width="237.5" height="192.4" fill="none" stroke="#383838" stroke-width="0.75"/>
<g fill="none" stroke-width="1.95" stroke-linejoin="round" stroke-linecap="butt"><polyline points="46.1,495.2 47.86,495.14 49.62,495.03 51.37,494.89 53.13,494.73 54.89,494.56 56.65,494.38 58.4,494.19 60.16,494.01 61.92,493.83 63.68,493.66 65.44,493.49 67.19,493.33 68.95,493.17 70.71,493.03 72.47,492.88 74.22,492.75 75.98,492.62 77.74,492.5 79.5,492.39 81.26,492.28 83.01,492.18 84.77,492.08 86.53,491.99 88.29,491.9 90.04,491.82 91.8,491.74 93.56,491.67 95.32,491.6 97.08,491.53 98.83,491.47 100.59,491.41 102.35,491.35 104.11,491.3 105.86,491.25 107.62,491.2 109.38,491.15 111.14,491.11 112.9,491.06 114.65,491.02 116.41,490.98 118.17,490.95 119.93,490.91 121.68,490.88 123.44,490.84 125.2,490.81 130.47,490.72 135.75,490.65 141.02,490.58 146.29,490.52 151.57,490.46 156.84,490.41 162.11,490.37 167.39,490.32 172.66,490.29 177.93,490.25 183.21,490.22 188.48,490.19 193.75,490.16 199.03,490.14 204.3,490.12 209.57,490.1 214.85,490.08 220.12,490.06 225.39,490.04 230.67,490.02 235.94,490.01 241.21,489.99 246.49,489.98 251.76,489.97 257.03,489.96 262.31,489.94 267.58,489.93 272.85,489.92 278.13,489.91 283.4,489.9" stroke="#000000"/>
<polyline points="46.1,495.2 47.86,494.97 49.62,494.63 51.37,494.22 53.13,493.78 54.89,493.32 56.65,492.84 58.4,492.35 60.16,491.86 61.92,491.38 63.68,490.89 65.44,490.42 67.19,489.95 68.95,489.49 70.71,489.05 72.47,488.61 74.22,488.19 75.98,487.78 77.74,487.39 79.5,487.01 81.26,486.64 83.01,486.29 84.77,485.95 86.53,485.62 88.29,485.3 90.04,485 91.8,484.71 93.56,484.43 95.32,484.17 97.08,483.91 98.83,483.67 100.59,483.43 102.35,483.21 104.11,482.99 105.86,482.79 107.62,482.59 109.38,482.4 111.14,482.22 112.9,482.05 114.65,481.88 116.41,481.72 118.17,481.57 119.93,481.43 121.68,481.29 123.44,481.15 125.2,481.03 130.47,480.67 135.75,480.36 141.02,480.09 146.29,479.85 151.57,479.63 156.84,479.44 162.11,479.28 167.39,479.12 172.66,478.99 177.93,478.87 183.21,478.76 188.48,478.67 193.75,478.58 199.03,478.5 204.3,478.43 209.57,478.37 214.85,478.31 220.12,478.26 225.39,478.21 230.67,478.17 235.94,478.13 241.21,478.09 246.49,478.06 251.76,478.03 257.03,478 262.31,477.98 267.58,477.95 272.85,477.93 278.13,477.91 283.4,477.89" stroke="#168CB9"/>
<polyline points="46.1,495.2 47.86,494.89 49.62,494.2 51.37,493.24 53.13,492.07 54.89,490.73 56.65,489.24 58.4,487.64 60.16,485.96 61.92,484.21 63.68,482.42 65.44,480.61 67.19,478.78 68.95,476.95 70.71,475.14 72.47,473.34 74.22,471.57 75.98,469.84 77.74,468.14 79.5,466.48 81.26,464.87 83.01,463.3 84.77,461.78 86.53,460.3 88.29,458.87 90.04,457.49 91.8,456.15 93.56,454.86 95.32,453.61 97.08,452.41 98.83,451.25 100.59,450.13 102.35,449.05 104.11,448.01 105.86,447 107.62,446.03 109.38,445.1 111.14,444.2 112.9,443.33 114.65,442.49 116.41,441.68 118.17,440.9 119.93,440.14 121.68,439.42 123.44,438.71 125.2,438.03 130.47,436.13 135.75,434.41 141.02,432.85 146.29,431.43 151.57,430.13 156.84,428.95 162.11,427.87 167.39,426.88 172.66,425.96 177.93,425.12 183.21,424.33 188.48,423.61 193.75,422.94 199.03,422.31 204.3,421.73 209.57,421.18 214.85,420.67 220.12,420.2 225.39,419.75 230.67,419.33 235.94,418.93 241.21,418.56 246.49,418.2 251.76,417.87 257.03,417.55 262.31,417.25 267.58,416.97 272.85,416.7 278.13,416.45 283.4,416.2" stroke="#726A08"/>
<polyline points="46.1,495.2 47.86,495.21 49.62,495.25 51.37,495.31 53.13,495.38 54.89,495.48 56.65,495.59 58.4,495.71 60.16,495.85 61.92,495.99 63.68,496.14 65.44,496.3 67.19,496.46 68.95,496.62 70.71,496.78 72.47,496.94 74.22,497.1 75.98,497.25 77.74,497.4 79.5,497.55 81.26,497.69 83.01,497.83 84.77,497.96 86.53,498.08 88.29,498.2 90.04,498.32 91.8,498.42 93.56,498.53 95.32,498.63 97.08,498.72 98.83,498.81 100.59,498.89 102.35,498.97 104.11,499.05 105.86,499.12 107.62,499.19 109.38,499.25 111.14,499.31 112.9,499.37 114.65,499.42 116.41,499.47 118.17,499.52 119.93,499.57 121.68,499.61 123.44,499.65 125.2,499.69 130.47,499.8 135.75,499.89 141.02,499.97 146.29,500.04 151.57,500.1 156.84,500.15 162.11,500.19 167.39,500.23 172.66,500.27 177.93,500.3 183.21,500.33 188.48,500.35 193.75,500.37 199.03,500.39 204.3,500.41 209.57,500.43 214.85,500.44 220.12,500.45 225.39,500.47 230.67,500.48 235.94,500.49 241.21,500.5 246.49,500.5 251.76,500.51 257.03,500.52 262.31,500.52 267.58,500.53 272.85,500.54 278.13,500.54 283.4,500.55" stroke="#FAC30A"/>
<polyline points="46.1,495.2 47.86,495.28 49.62,495.45 51.37,495.67 53.13,495.92 54.89,496.2 56.65,496.5 58.4,496.8 60.16,497.12 61.92,497.44 63.68,497.75 65.44,498.06 67.19,498.37 68.95,498.67 70.71,498.96 72.47,499.24 74.22,499.51 75.98,499.76 77.74,500.01 79.5,500.25 81.26,500.48 83.01,500.69 84.77,500.9 86.53,501.1 88.29,501.28 90.04,501.46 91.8,501.63 93.56,501.79 95.32,501.95 97.08,502.09 98.83,502.23 100.59,502.37 102.35,502.49 104.11,502.61 105.86,502.73 107.62,502.84 109.38,502.94 111.14,503.04 112.9,503.14 114.65,503.23 116.41,503.31 118.17,503.4 119.93,503.47 121.68,503.55 123.44,503.62 125.2,503.69 130.47,503.88 135.75,504.05 141.02,504.2 146.29,504.33 151.57,504.45 156.84,504.55 162.11,504.65 167.39,504.73 172.66,504.81 177.93,504.88 183.21,504.94 188.48,505 193.75,505.05 199.03,505.1 204.3,505.14 209.57,505.19 214.85,505.22 220.12,505.26 225.39,505.29 230.67,505.32 235.94,505.35 241.21,505.37 246.49,505.4 251.76,505.42 257.03,505.44 262.31,505.46 267.58,505.48 272.85,505.5 278.13,505.51 283.4,505.53" stroke="#E10A19"/></g>
<path d="M46.1 399.1h9.8M283.4 399.1h-9.8M46.1 402.31h5.3M283.4 402.31h-5.3M46.1 405.51h5.3M283.4 405.51h-5.3M46.1 408.72h5.3M283.4 408.72h-5.3M46.1 411.92h5.3M283.4 411.92h-5.3M46.1 415.12h5.3M283.4 415.12h-5.3M46.1 418.33h5.3M283.4 418.33h-5.3M46.1 421.54h5.3M283.4 421.54h-5.3M46.1 424.74h5.3M283.4 424.74h-5.3M46.1 427.94h5.3M283.4 427.94h-5.3M46.1 431.15h9.8M283.4 431.15h-9.8M46.1 434.36h5.3M283.4 434.36h-5.3M46.1 437.56h5.3M283.4 437.56h-5.3M46.1 440.76h5.3M283.4 440.76h-5.3M46.1 443.97h5.3M283.4 443.97h-5.3M46.1 447.18h5.3M283.4 447.18h-5.3M46.1 450.38h5.3M283.4 450.38h-5.3M46.1 453.59h5.3M283.4 453.59h-5.3M46.1 456.79h5.3M283.4 456.79h-5.3M46.1 460h5.3M283.4 460h-5.3M46.1 463.2h9.8M283.4 463.2h-9.8M46.1 466.41h5.3M283.4 466.41h-5.3M46.1 469.61h5.3M283.4 469.61h-5.3M46.1 472.81h5.3M283.4 472.81h-5.3M46.1 476.02h5.3M283.4 476.02h-5.3M46.1 479.23h5.3M283.4 479.23h-5.3M46.1 482.43h5.3M283.4 482.43h-5.3M46.1 485.63h5.3M283.4 485.63h-5.3M46.1 488.84h5.3M283.4 488.84h-5.3M46.1 492.05h5.3M283.4 492.05h-5.3M46.1 495.25h9.8M283.4 495.25h-9.8M46.1 498.45h5.3M283.4 498.45h-5.3M46.1 501.66h5.3M283.4 501.66h-5.3M46.1 504.87h5.3M283.4 504.87h-5.3M46.1 508.07h5.3M283.4 508.07h-5.3M46.1 511.27h5.3M283.4 511.27h-5.3M46.1 514.48h5.3M283.4 514.48h-5.3M46.1 517.68h5.3M283.4 517.68h-5.3M46.1 520.89h5.3M283.4 520.89h-5.3M46.1 524.1h5.3M283.4 524.1h-5.3M46.1 527.3h9.8M283.4 527.3h-9.8M46.1 530.5h5.3M283.4 530.5h-5.3M46.1 533.71h5.3M283.4 533.71h-5.3M46.1 536.91h5.3M283.4 536.91h-5.3M46.1 540.12h5.3M283.4 540.12h-5.3M46.1 543.33h5.3M283.4 543.33h-5.3M46.1 546.53h5.3M283.4 546.53h-5.3M46.1 549.74h5.3M283.4 549.74h-5.3M46.1 552.94h5.3M283.4 552.94h-5.3M46.1 556.14h5.3M283.4 556.14h-5.3M46.1 559.35h9.8M283.4 559.35h-9.8M46.1 562.55h5.3M283.4 562.55h-5.3M46.1 565.76h5.3M283.4 565.76h-5.3M46.1 568.96h5.3M283.4 568.96h-5.3M46.1 572.17h5.3M283.4 572.17h-5.3M46.1 575.38h5.3M283.4 575.38h-5.3M46.1 578.58h5.3M283.4 578.58h-5.3M46.1 581.78h5.3M283.4 581.78h-5.3M46.1 584.99h5.3M283.4 584.99h-5.3M46.1 588.19h5.3M283.4 588.19h-5.3M46.1 591.4h9.8M283.4 591.4h-9.8M59.28 399.1v3.5M59.28 591.4v-3.5M72.47 399.1v7.4M72.47 591.4v-7.4M85.65 399.1v3.5M85.65 591.4v-3.5M98.83 399.1v3.5M98.83 591.4v-3.5M112.02 399.1v3.5M112.02 591.4v-3.5M125.2 399.1v7.4M125.2 591.4v-7.4M138.38 399.1v3.5M138.38 591.4v-3.5M151.57 399.1v3.5M151.57 591.4v-3.5M164.75 399.1v3.5M164.75 591.4v-3.5M177.93 399.1v7.4M177.93 591.4v-7.4M191.12 399.1v3.5M191.12 591.4v-3.5M204.3 399.1v3.5M204.3 591.4v-3.5M217.48 399.1v3.5M217.48 591.4v-3.5M230.67 399.1v7.4M230.67 591.4v-7.4M243.85 399.1v3.5M243.85 591.4v-3.5M257.03 399.1v3.5M257.03 591.4v-3.5M270.22 399.1v3.5M270.22 591.4v-3.5" stroke="#3c3c3c" stroke-width="0.8" fill="none"/>
<rect x="46.1" y="399.1" width="237.3" height="192.3" fill="none" stroke="#383838" stroke-width="0.75"/>
<g fill="none" stroke-width="1.95" stroke-linejoin="round" stroke-linecap="butt"><polyline points="288.6,495.2 290.36,495.19 292.12,495.17 293.88,495.13 295.64,495.08 297.4,495.01 299.16,494.93 300.91,494.85 302.67,494.77 304.43,494.68 306.19,494.59 307.95,494.5 309.71,494.41 311.47,494.33 313.23,494.25 314.99,494.17 316.75,494.1 318.51,494.03 320.27,493.97 322.03,493.91 323.79,493.85 325.54,493.8 327.3,493.75 329.06,493.7 330.82,493.65 332.58,493.61 334.34,493.57 336.1,493.53 337.86,493.5 339.62,493.47 341.38,493.44 343.14,493.41 344.9,493.38 346.66,493.35 348.41,493.33 350.17,493.3 351.93,493.28 353.69,493.26 355.45,493.24 357.21,493.22 358.97,493.2 360.73,493.18 362.49,493.17 364.25,493.15 366.01,493.13 367.77,493.12 373.04,493.08 378.32,493.04 383.6,493.01 388.88,492.98 394.16,492.96 399.43,492.93 404.71,492.91 409.99,492.89 415.27,492.88 420.54,492.86 425.82,492.85 431.1,492.83 436.38,492.82 441.66,492.81 446.93,492.8 452.21,492.79 457.49,492.78 462.77,492.77 468.04,492.76 473.32,492.76 478.6,492.75 483.88,492.74 489.16,492.74 494.43,492.73 499.71,492.72 504.99,492.72 510.27,492.71 515.54,492.71 520.82,492.7 526.1,492.7" stroke="#000000"/>
<polyline points="288.6,495.2 290.36,495.09 292.12,494.93 293.88,494.73 295.64,494.52 297.4,494.3 299.16,494.07 300.91,493.84 302.67,493.61 304.43,493.38 306.19,493.16 307.95,492.94 309.71,492.73 311.47,492.52 313.23,492.32 314.99,492.12 316.75,491.93 318.51,491.75 320.27,491.58 322.03,491.41 323.79,491.25 325.54,491.1 327.3,490.95 329.06,490.81 330.82,490.67 332.58,490.54 334.34,490.42 336.1,490.3 337.86,490.19 339.62,490.09 341.38,489.98 343.14,489.89 344.9,489.79 346.66,489.71 348.41,489.62 350.17,489.54 351.93,489.46 353.69,489.39 355.45,489.32 357.21,489.25 358.97,489.19 360.73,489.13 362.49,489.07 364.25,489.02 366.01,488.96 367.77,488.91 373.04,488.77 378.32,488.65 383.6,488.54 388.88,488.45 394.16,488.36 399.43,488.29 404.71,488.22 409.99,488.17 415.27,488.11 420.54,488.07 425.82,488.03 431.1,487.99 436.38,487.96 441.66,487.92 446.93,487.9 452.21,487.87 457.49,487.85 462.77,487.83 468.04,487.81 473.32,487.79 478.6,487.78 483.88,487.76 489.16,487.75 494.43,487.74 499.71,487.73 504.99,487.72 510.27,487.71 515.54,487.7 520.82,487.69 526.1,487.68" stroke="#168CB9"/>
<polyline points="288.6,495.2 290.36,494.97 292.12,494.56 293.88,494.04 295.64,493.46 297.4,492.82 299.16,492.14 300.91,491.44 302.67,490.71 304.43,489.97 306.19,489.22 307.95,488.47 309.71,487.72 311.47,486.97 313.23,486.24 314.99,485.52 316.75,484.81 318.51,484.11 320.27,483.43 322.03,482.77 323.79,482.13 325.54,481.51 327.3,480.9 329.06,480.32 330.82,479.75 332.58,479.21 334.34,478.68 336.1,478.18 337.86,477.69 339.62,477.22 341.38,476.77 343.14,476.33 344.9,475.91 346.66,475.51 348.41,475.13 350.17,474.76 351.93,474.41 353.69,474.07 355.45,473.74 357.21,473.43 358.97,473.13 360.73,472.85 362.49,472.57 364.25,472.31 366.01,472.06 367.77,471.82 373.04,471.15 378.32,470.56 383.6,470.05 388.88,469.59 394.16,469.19 399.43,468.84 404.71,468.53 409.99,468.25 415.27,468 420.54,467.78 425.82,467.58 431.1,467.41 436.38,467.25 441.66,467.11 446.93,466.99 452.21,466.87 457.49,466.77 462.77,466.68 468.04,466.6 473.32,466.52 478.6,466.45 483.88,466.39 489.16,466.34 494.43,466.28 499.71,466.24 504.99,466.19 510.27,466.16 515.54,466.12 520.82,466.09 526.1,466.06" stroke="#726A08"/>
<polyline points="288.6,495.2 290.36,495.3 292.12,495.4 293.88,495.49 295.64,495.57 297.4,495.65 299.16,495.72 300.91,495.8 302.67,495.86 304.43,495.93 306.19,495.99 307.95,496.06 309.71,496.11 311.47,496.17 313.23,496.22 314.99,496.28 316.75,496.33 318.51,496.38 320.27,496.42 322.03,496.47 323.79,496.51 325.54,496.55 327.3,496.59 329.06,496.63 330.82,496.67 332.58,496.71 334.34,496.74 336.1,496.77 337.86,496.81 339.62,496.84 341.38,496.87 343.14,496.9 344.9,496.93 346.66,496.96 348.41,496.98 350.17,497.01 351.93,497.03 353.69,497.06 355.45,497.08 357.21,497.1 358.97,497.13 360.73,497.15 362.49,497.17 364.25,497.19 366.01,497.21 367.77,497.23 373.04,497.28 378.32,497.33 383.6,497.37 388.88,497.41 394.16,497.45 399.43,497.48 404.71,497.51 409.99,497.54 415.27,497.57 420.54,497.59 425.82,497.61 431.1,497.63 436.38,497.65 441.66,497.67 446.93,497.69 452.21,497.7 457.49,497.71 462.77,497.73 468.04,497.74 473.32,497.75 478.6,497.76 483.88,497.77 489.16,497.78 494.43,497.78 499.71,497.79 504.99,497.8 510.27,497.81 515.54,497.81 520.82,497.82 526.1,497.82" stroke="#FAC30A"/>
<polyline points="288.6,495.2 290.36,495.27 292.12,495.4 293.88,495.57 295.64,495.76 297.4,495.97 299.16,496.19 300.91,496.41 302.67,496.63 304.43,496.85 306.19,497.07 307.95,497.28 309.71,497.48 311.47,497.68 313.23,497.87 314.99,498.05 316.75,498.23 318.51,498.39 320.27,498.55 322.03,498.71 323.79,498.85 325.54,498.99 327.3,499.12 329.06,499.25 330.82,499.36 332.58,499.48 334.34,499.59 336.1,499.69 337.86,499.79 339.62,499.88 341.38,499.97 343.14,500.06 344.9,500.14 346.66,500.22 348.41,500.3 350.17,500.37 351.93,500.44 353.69,500.5 355.45,500.57 357.21,500.63 358.97,500.69 360.73,500.74 362.49,500.8 364.25,500.85 366.01,500.9 367.77,500.95 373.04,501.08 378.32,501.2 383.6,501.31 388.88,501.41 394.16,501.5 399.43,501.58 404.71,501.65 409.99,501.72 415.27,501.78 420.54,501.84 425.82,501.89 431.1,501.94 436.38,501.99 441.66,502.03 446.93,502.07 452.21,502.11 457.49,502.15 462.77,502.18 468.04,502.21 473.32,502.24 478.6,502.27 483.88,502.29 489.16,502.32 494.43,502.34 499.71,502.37 504.99,502.39 510.27,502.41 515.54,502.43 520.82,502.44 526.1,502.46" stroke="#E10A19"/>
<polyline points="288.6,495.2 290.36,495.44 292.12,495.88 293.88,496.44 295.64,497.08 297.4,497.77 299.16,498.48 300.91,499.21 302.67,499.94 304.43,500.66 306.19,501.37 307.95,502.06 309.71,502.72 311.47,503.35 313.23,503.96 314.99,504.54 316.75,505.1 318.51,505.62 320.27,506.12 322.03,506.59 323.79,507.04 325.54,507.46 327.3,507.86 329.06,508.24 330.82,508.6 332.58,508.94 334.34,509.26 336.1,509.56 337.86,509.85 339.62,510.12 341.38,510.38 343.14,510.63 344.9,510.86 346.66,511.08 348.41,511.29 350.17,511.49 351.93,511.67 353.69,511.85 355.45,512.03 357.21,512.19 358.97,512.34 360.73,512.49 362.49,512.63 364.25,512.77 366.01,512.9 367.77,513.02 373.04,513.36 378.32,513.65 383.6,513.91 388.88,514.15 394.16,514.35 399.43,514.54 404.71,514.7 409.99,514.85 415.27,514.99 420.54,515.11 425.82,515.22 431.1,515.32 436.38,515.41 441.66,515.5 446.93,515.58 452.21,515.65 457.49,515.72 462.77,515.78 468.04,515.83 473.32,515.89 478.6,515.94 483.88,515.98 489.16,516.02 494.43,516.07 499.71,516.1 504.99,516.14 510.27,516.17 515.54,516.2 520.82,516.23 526.1,516.26" stroke="#F09B4B"/></g>
<path d="M288.6 399.1h9.8M526.1 399.1h-9.8M288.6 402.31h5.3M526.1 402.31h-5.3M288.6 405.51h5.3M526.1 405.51h-5.3M288.6 408.72h5.3M526.1 408.72h-5.3M288.6 411.92h5.3M526.1 411.92h-5.3M288.6 415.12h5.3M526.1 415.12h-5.3M288.6 418.33h5.3M526.1 418.33h-5.3M288.6 421.54h5.3M526.1 421.54h-5.3M288.6 424.74h5.3M526.1 424.74h-5.3M288.6 427.94h5.3M526.1 427.94h-5.3M288.6 431.15h9.8M526.1 431.15h-9.8M288.6 434.36h5.3M526.1 434.36h-5.3M288.6 437.56h5.3M526.1 437.56h-5.3M288.6 440.76h5.3M526.1 440.76h-5.3M288.6 443.97h5.3M526.1 443.97h-5.3M288.6 447.18h5.3M526.1 447.18h-5.3M288.6 450.38h5.3M526.1 450.38h-5.3M288.6 453.59h5.3M526.1 453.59h-5.3M288.6 456.79h5.3M526.1 456.79h-5.3M288.6 460h5.3M526.1 460h-5.3M288.6 463.2h9.8M526.1 463.2h-9.8M288.6 466.41h5.3M526.1 466.41h-5.3M288.6 469.61h5.3M526.1 469.61h-5.3M288.6 472.81h5.3M526.1 472.81h-5.3M288.6 476.02h5.3M526.1 476.02h-5.3M288.6 479.23h5.3M526.1 479.23h-5.3M288.6 482.43h5.3M526.1 482.43h-5.3M288.6 485.63h5.3M526.1 485.63h-5.3M288.6 488.84h5.3M526.1 488.84h-5.3M288.6 492.05h5.3M526.1 492.05h-5.3M288.6 495.25h9.8M526.1 495.25h-9.8M288.6 498.45h5.3M526.1 498.45h-5.3M288.6 501.66h5.3M526.1 501.66h-5.3M288.6 504.87h5.3M526.1 504.87h-5.3M288.6 508.07h5.3M526.1 508.07h-5.3M288.6 511.27h5.3M526.1 511.27h-5.3M288.6 514.48h5.3M526.1 514.48h-5.3M288.6 517.68h5.3M526.1 517.68h-5.3M288.6 520.89h5.3M526.1 520.89h-5.3M288.6 524.1h5.3M526.1 524.1h-5.3M288.6 527.3h9.8M526.1 527.3h-9.8M288.6 530.5h5.3M526.1 530.5h-5.3M288.6 533.71h5.3M526.1 533.71h-5.3M288.6 536.91h5.3M526.1 536.91h-5.3M288.6 540.12h5.3M526.1 540.12h-5.3M288.6 543.33h5.3M526.1 543.33h-5.3M288.6 546.53h5.3M526.1 546.53h-5.3M288.6 549.74h5.3M526.1 549.74h-5.3M288.6 552.94h5.3M526.1 552.94h-5.3M288.6 556.14h5.3M526.1 556.14h-5.3M288.6 559.35h9.8M526.1 559.35h-9.8M288.6 562.55h5.3M526.1 562.55h-5.3M288.6 565.76h5.3M526.1 565.76h-5.3M288.6 568.96h5.3M526.1 568.96h-5.3M288.6 572.17h5.3M526.1 572.17h-5.3M288.6 575.38h5.3M526.1 575.38h-5.3M288.6 578.58h5.3M526.1 578.58h-5.3M288.6 581.78h5.3M526.1 581.78h-5.3M288.6 584.99h5.3M526.1 584.99h-5.3M288.6 588.19h5.3M526.1 588.19h-5.3M288.6 591.4h9.8M526.1 591.4h-9.8M301.79 399.1v3.5M301.79 591.4v-3.5M314.99 399.1v7.4M314.99 591.4v-7.4M328.18 399.1v3.5M328.18 591.4v-3.5M341.38 399.1v3.5M341.38 591.4v-3.5M354.57 399.1v3.5M354.57 591.4v-3.5M367.77 399.1v7.4M367.77 591.4v-7.4M380.96 399.1v3.5M380.96 591.4v-3.5M394.16 399.1v3.5M394.16 591.4v-3.5M407.35 399.1v3.5M407.35 591.4v-3.5M420.54 399.1v7.4M420.54 591.4v-7.4M433.74 399.1v3.5M433.74 591.4v-3.5M446.93 399.1v3.5M446.93 591.4v-3.5M460.13 399.1v3.5M460.13 591.4v-3.5M473.32 399.1v7.4M473.32 591.4v-7.4M486.52 399.1v3.5M486.52 591.4v-3.5M499.71 399.1v3.5M499.71 591.4v-3.5M512.91 399.1v3.5M512.91 591.4v-3.5" stroke="#3c3c3c" stroke-width="0.8" fill="none"/>
<rect x="288.6" y="399.1" width="237.5" height="192.3" fill="none" stroke="#383838" stroke-width="0.75"/>
<g style="filter:grayscale(1)"><g fill="#000" stroke="#fff" stroke-width="0.3"><text transform="translate(58.56,177.5) scale(1,1)" font-size="20.4">(</text><text transform="translate(67.02,177.5) scale(0.97,1)" font-size="17.7">a</text><text transform="translate(78.93,177.5) scale(1,1)" font-size="20.4">)</text></g>
<text transform="translate(22.89,10) scale(1.08,1)" font-size="12.3" letter-spacing="0.24" fill="#000" stroke="#000" stroke-width="0.3">1.3</text>
<text transform="translate(22.89,37.95) scale(1.08,1)" font-size="12.3" letter-spacing="-0.04" fill="#000" stroke="#000" stroke-width="0.3">1.2</text>
<text transform="translate(23.09,70) scale(1.08,1)" font-size="12.3" letter-spacing="-0.56" fill="#000" stroke="#000" stroke-width="0.3">1.1</text>
<text transform="translate(23.09,102.05) scale(1.08,1)" font-size="12.3" letter-spacing="-0.29" fill="#000" stroke="#000" stroke-width="0.3">1.0</text>
<text transform="translate(21.98,134.1) scale(1.08,1)" font-size="12.3" letter-spacing="0.41" fill="#000" stroke="#000" stroke-width="0.3">0.9</text>
<text transform="translate(21.88,166.15) scale(1.08,1)" font-size="12.3" letter-spacing="0.29" fill="#000" stroke="#000" stroke-width="0.3">0.8</text>
<text transform="translate(21.98,193.1) scale(1.08,1)" font-size="12.3" letter-spacing="0.06" fill="#000" stroke="#000" stroke-width="0.3">0.7</text>
<g transform="rotate(-90)" fill="#000" stroke="#000" stroke-width="0.3"><text class="s" transform="translate(-141.33,11.5) scale(0.77,1)" font-size="14">D</text><text class="s" transform="translate(-132.41,13.1) scale(0.85,1)" font-size="7.3" stroke-width="0.55">A</text><text class="s" transform="translate(-128.29,10.7) scale(1,1)" font-size="15.9">(</text><text class="s" transform="translate(-123.18,12.3) scale(0.98,1)" font-size="13">ξ</text><text class="s" transform="translate(-116.8,10.7) scale(1,1)" font-size="15.9">)</text><text class="s" transform="translate(-101.08,11.5) scale(0.77,1)" font-size="14">D</text><text class="s" transform="translate(-93.31,13.1) scale(0.85,1)" font-size="7.3" stroke-width="0.55">A</text><text class="s" transform="translate(-89.34,10.7) scale(1,1)" font-size="15.9">(</text><text class="s" transform="translate(-83.53,12.3) scale(0.98,1)" font-size="13">ξ</text><text class="s" transform="translate(-76.17,11.5) scale(1,1)" font-size="14.6">=</text><text class="s" transform="translate(-66.29,11.85) scale(0.97,1)" font-size="14.8">0</text><text class="s" transform="translate(-58.5,10.7) scale(1,1)" font-size="15.9">)</text></g>
<path d="M13.8 110.15L0.1 102.65" stroke="#000" stroke-width="1.25" fill="none"/>
<g fill="#000" stroke="#fff" stroke-width="0.3"><text transform="translate(301.18,177.5) scale(1,1)" font-size="20.4">(</text><text transform="translate(310.55,177.5) scale(1.06,1)" font-size="17.7">b</text><text transform="translate(322.48,177.5) scale(1,1)" font-size="20.4">)</text></g>
<g fill="#000" stroke="#fff" stroke-width="0.3"><text transform="translate(58.56,376.5) scale(1,1)" font-size="20.4">(</text><text transform="translate(67.38,376.5) scale(1.02,1)" font-size="17.7">c</text><text transform="translate(78.58,376.5) scale(1,1)" font-size="20.4">)</text></g>
<text transform="translate(22.89,209.2) scale(1.08,1)" font-size="12.3" letter-spacing="0.24" fill="#000" stroke="#000" stroke-width="0.3">1.3</text>
<text transform="translate(22.89,237.17) scale(1.08,1)" font-size="12.3" letter-spacing="-0.04" fill="#000" stroke="#000" stroke-width="0.3">1.2</text>
<text transform="translate(23.09,269.23) scale(1.08,1)" font-size="12.3" letter-spacing="-0.56" fill="#000" stroke="#000" stroke-width="0.3">1.1</text>
<text transform="translate(23.09,301.3) scale(1.08,1)" font-size="12.3" letter-spacing="-0.29" fill="#000" stroke="#000" stroke-width="0.3">1.0</text>
<text transform="translate(21.98,333.37) scale(1.08,1)" font-size="12.3" letter-spacing="0.41" fill="#000" stroke="#000" stroke-width="0.3">0.9</text>
<text transform="translate(21.88,365.43) scale(1.08,1)" font-size="12.3" letter-spacing="0.29" fill="#000" stroke="#000" stroke-width="0.3">0.8</text>
<text transform="translate(21.98,392.4) scale(1.08,1)" font-size="12.3" letter-spacing="0.06" fill="#000" stroke="#000" stroke-width="0.3">0.7</text>
<g transform="rotate(-90)" fill="#000" stroke="#000" stroke-width="0.3"><text class="s" transform="translate(-340.58,11.5) scale(0.77,1)" font-size="14">D</text><text class="s" transform="translate(-331.66,13.1) scale(0.85,1)" font-size="7.3" stroke-width="0.55">A</text><text class="s" transform="translate(-327.54,10.7) scale(1,1)" font-size="15.9">(</text><text class="s" transform="translate(-322.43,12.3) scale(0.98,1)" font-size="13">ξ</text><text class="s" transform="translate(-316.05,10.7) scale(1,1)" font-size="15.9">)</text><text class="s" transform="translate(-300.33,11.5) scale(0.77,1)" font-size="14">D</text><text class="s" transform="translate(-292.56,13.1) scale(0.85,1)" font-size="7.3" stroke-width="0.55">A</text><text class="s" transform="translate(-288.59,10.7) scale(1,1)" font-size="15.9">(</text><text class="s" transform="translate(-282.78,12.3) scale(0.98,1)" font-size="13">ξ</text><text class="s" transform="translate(-275.42,11.5) scale(1,1)" font-size="14.6">=</text><text class="s" transform="translate(-265.54,11.85) scale(0.97,1)" font-size="14.8">0</text><text class="s" transform="translate(-257.75,10.7) scale(1,1)" font-size="15.9">)</text></g>
<path d="M13.8 309.4L0.1 301.9" stroke="#000" stroke-width="1.25" fill="none"/>
<g fill="#000" stroke="#fff" stroke-width="0.3"><text transform="translate(301.36,376.5) scale(1,1)" font-size="20.4">(</text><text transform="translate(309.9,376.5) scale(1.14,1)" font-size="17.7">d</text><text transform="translate(322.43,376.5) scale(1,1)" font-size="20.4">)</text></g>
<g fill="#000" stroke="#fff" stroke-width="0.3"><text transform="translate(58.56,575.7) scale(1,1)" font-size="20.4">(</text><text transform="translate(67.23,575.7) scale(0.96,1)" font-size="17.7">e</text><text transform="translate(78.58,575.7) scale(1,1)" font-size="20.4">)</text></g>
<text transform="translate(22.89,408.4) scale(1.08,1)" font-size="12.3" letter-spacing="0.24" fill="#000" stroke="#000" stroke-width="0.3">1.3</text>
<text transform="translate(22.89,436.35) scale(1.08,1)" font-size="12.3" letter-spacing="-0.04" fill="#000" stroke="#000" stroke-width="0.3">1.2</text>
<text transform="translate(23.09,468.4) scale(1.08,1)" font-size="12.3" letter-spacing="-0.56" fill="#000" stroke="#000" stroke-width="0.3">1.1</text>
<text transform="translate(23.09,500.45) scale(1.08,1)" font-size="12.3" letter-spacing="-0.29" fill="#000" stroke="#000" stroke-width="0.3">1.0</text>
<text transform="translate(21.98,532.5) scale(1.08,1)" font-size="12.3" letter-spacing="0.41" fill="#000" stroke="#000" stroke-width="0.3">0.9</text>
<text transform="translate(21.88,564.55) scale(1.08,1)" font-size="12.3" letter-spacing="0.29" fill="#000" stroke="#000" stroke-width="0.3">0.8</text>
<text transform="translate(21.98,591.5) scale(1.08,1)" font-size="12.3" letter-spacing="0.06" fill="#000" stroke="#000" stroke-width="0.3">0.7</text>
<g transform="rotate(-90)" fill="#000" stroke="#000" stroke-width="0.3"><text class="s" transform="translate(-539.73,11.5) scale(0.77,1)" font-size="14">D</text><text class="s" transform="translate(-530.81,13.1) scale(0.85,1)" font-size="7.3" stroke-width="0.55">A</text><text class="s" transform="translate(-526.69,10.7) scale(1,1)" font-size="15.9">(</text><text class="s" transform="translate(-521.58,12.3) scale(0.98,1)" font-size="13">ξ</text><text class="s" transform="translate(-515.2,10.7) scale(1,1)" font-size="15.9">)</text><text class="s" transform="translate(-499.48,11.5) scale(0.77,1)" font-size="14">D</text><text class="s" transform="translate(-491.71,13.1) scale(0.85,1)" font-size="7.3" stroke-width="0.55">A</text><text class="s" transform="translate(-487.74,10.7) scale(1,1)" font-size="15.9">(</text><text class="s" transform="translate(-481.93,12.3) scale(0.98,1)" font-size="13">ξ</text><text class="s" transform="translate(-474.57,11.5) scale(1,1)" font-size="14.6">=</text><text class="s" transform="translate(-464.69,11.85) scale(0.97,1)" font-size="14.8">0</text><text class="s" transform="translate(-456.9,10.7) scale(1,1)" font-size="15.9">)</text></g>
<path d="M13.8 508.55L0.1 501.05" stroke="#000" stroke-width="1.25" fill="none"/>
<text transform="translate(71.97,610.1) scale(1.11,1)" font-size="12.3" letter-spacing="0" text-anchor="middle" fill="#000" stroke="#000" stroke-width="0.3">2</text>
<text transform="translate(124.7,610.1) scale(1.11,1)" font-size="12.3" letter-spacing="0" text-anchor="middle" fill="#000" stroke="#000" stroke-width="0.3">4</text>
<text transform="translate(177.43,610.1) scale(1.11,1)" font-size="12.3" letter-spacing="0" text-anchor="middle" fill="#000" stroke="#000" stroke-width="0.3">6</text>
<text transform="translate(230.17,610.1) scale(1.11,1)" font-size="12.3" letter-spacing="0" text-anchor="middle" fill="#000" stroke="#000" stroke-width="0.3">8</text>
<text transform="translate(283.9,610.1) scale(1.05,1)" font-size="12.3" letter-spacing="0.15" text-anchor="middle" fill="#000" stroke="#000" stroke-width="0.3">10</text>
<g fill="#000" stroke="#000" stroke-width="0.3"><text class="s" transform="translate(146.63,625.6) scale(0.8,1)" font-size="15">(</text><text class="s" transform="translate(153.17,625.5) scale(0.85,1)" font-size="12.4">1</text><text class="s" transform="translate(160.36,627.2) scale(1,1)" font-size="15">+</text><text class="s" transform="translate(169.79,625.5) scale(1.14,1)" font-size="13.3">z</text><text class="s" transform="translate(178.17,625.6) scale(0.8,1)" font-size="15">)</text></g>
<g fill="#000" stroke="#fff" stroke-width="0.3"><text transform="translate(301.41,575.7) scale(1,1)" font-size="20.4">(</text><text class="s" transform="translate(309.85,575.7) scale(1.07,1)" font-size="18.2" stroke="#000" stroke-width="0.4">f</text><text transform="translate(317.88,575.7) scale(1,1)" font-size="20.4">)</text></g>
<text transform="translate(314.49,610.1) scale(1.11,1)" font-size="12.3" letter-spacing="0" text-anchor="middle" fill="#000" stroke="#000" stroke-width="0.3">2</text>
<text transform="translate(367.27,610.1) scale(1.11,1)" font-size="12.3" letter-spacing="0" text-anchor="middle" fill="#000" stroke="#000" stroke-width="0.3">4</text>
<text transform="translate(420.04,610.1) scale(1.11,1)" font-size="12.3" letter-spacing="0" text-anchor="middle" fill="#000" stroke="#000" stroke-width="0.3">6</text>
<text transform="translate(472.82,610.1) scale(1.11,1)" font-size="12.3" letter-spacing="0" text-anchor="middle" fill="#000" stroke="#000" stroke-width="0.3">8</text>
<text transform="translate(526.6,610.1) scale(1.05,1)" font-size="12.3" letter-spacing="0.15" text-anchor="middle" fill="#000" stroke="#000" stroke-width="0.3">10</text>
<g fill="#000" stroke="#000" stroke-width="0.3"><text class="s" transform="translate(389.63,625.6) scale(0.8,1)" font-size="15">(</text><text class="s" transform="translate(396.17,625.5) scale(0.85,1)" font-size="12.4">1</text><text class="s" transform="translate(403.36,627.2) scale(1,1)" font-size="15">+</text><text class="s" transform="translate(412.79,625.5) scale(1.14,1)" font-size="13.3">z</text><text class="s" transform="translate(421.17,625.6) scale(0.8,1)" font-size="15">)</text></g></g>
</svg></body></html>
